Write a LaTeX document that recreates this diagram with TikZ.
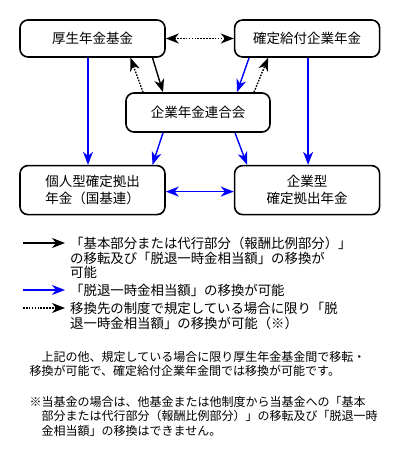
\documentclass[tikz,border=0pt]{standalone}
\usepackage{fontspec}
\setmainfont{Noto Sans CJK JP}
\usetikzlibrary{arrows.meta, positioning}
\definecolor{moveblue}{HTML}{0000FF}

\begin{document}
\begin{tikzpicture}[x=1pt, y=-1pt,
  plan/.style={rectangle, draw=black, line width=1.6pt, rounded corners=8pt, minimum width=145pt, minimum height=37pt, align=center, inner sep=2pt, font=\fontsize{13.5}{17}\selectfont},
  note/.style={anchor=north west, inner sep=0pt, align=left, font=\fontsize{13.4}{14.5}\selectfont},
  para/.style={anchor=north west, inner sep=0pt, align=left, font=\fontsize{12}{14.5}\selectfont},
  arrow/.style={-{Stealth[length=13pt, width=10pt, inset=4pt]}, line width=1.4pt},
  both/.style={{Stealth[length=13pt, width=10pt, inset=4pt]}-{Stealth[length=13pt, width=10pt, inset=4pt]}, line width=1.4pt},
  dots/.style={dash pattern=on 1.6pt off 1.3pt}
]
  \useasboundingbox (0,0) rectangle (401,455);

  % Boxes
  \node[plan] (kosei) at (92.5,38.5) {厚生年金基金};
  \node[plan, right=68pt of kosei] (kakutei) {確定給付企業年金};
  \node[plan, minimum width=144pt, minimum height=39pt] (rengo) at (198,112.5) {企業年金連合会};
  \node[plan, minimum height=49pt, below=107pt of kosei.south, anchor=north] (kojin) {個人型確定拠出\\年金（国基連）};
  \node[plan, minimum height=49pt, below=107pt of kakutei.south, anchor=north] (kigyo) {企業型\\確定拠出年金};

  % Arrows
  \draw[both, dots] (kosei.east) -- (kakutei.west);
  \draw[arrow] ([xshift=60pt]kosei.south) -- ([xshift=-35pt]rengo.north);
  \draw[arrow, dots] ([xshift=-55pt]rengo.north) -- ([xshift=38pt]kosei.south);
  \draw[arrow, moveblue] ([xshift=-58pt]kakutei.south) -- ([xshift=39pt]rengo.north);
  \draw[arrow, dots] ([xshift=56pt]rengo.north) -- ([xshift=-39pt]kakutei.south);
  \draw[arrow, moveblue] ([xshift=-4.5pt]kosei.south) -- ([xshift=-4.5pt]kojin.north);
  \draw[arrow, moveblue] ([xshift=1pt]kakutei.south) -- ([xshift=1pt]kigyo.north);
  \draw[arrow, moveblue] ([xshift=-35pt]rengo.south) -- ([xshift=60pt]kojin.north);
  \draw[arrow, moveblue] ([xshift=37pt]rengo.south) -- ([xshift=-60pt]kigyo.north);
  \draw[both, moveblue] ([yshift=-1.5pt]kojin.east) -- ([yshift=-1.5pt]kigyo.west);

  % Legend
  \coordinate (k1) at (23,243);  \coordinate (k2) at (65,243);
  \coordinate (b1) at (23,290);  \coordinate (b2) at (65,290);
  \coordinate (d1) at (23,308);  \coordinate (d2) at (65,308);
  \draw[arrow] (k1) -- (k2);
  \draw[arrow, moveblue] (b1) -- (b2);
  \draw[arrow, dots] (d1) -- (d2);
  \node[note] (blackNote) at (70,237) {「基本部分または代行部分（報酬比例部分）」\\の移転及び「脱退一時金相当額」の移換が\\可能};
  \node[note] (blueNote) at (70,284) {「脱退一時金相当額」の移換が可能};
  \node[note] (dotNote) at (70,302) {移換先の制度で規定している場合に限り「脱\\退一時金相当額」の移換が可能（※）};

  % Remarks
  \node[para] (others) at (29.5,351) {\hspace*{1em}上記の他、規定している場合に限り厚生年金基金間で移転・\\移換が可能で、確定給付企業年金間では移換が可能です。};
  \node[para] (caution) at (29.5,396) {※当基金の場合は、他基金または他制度から当基金への「基本\\\hspace*{1em}部分または代行部分（報酬比例部分）」の移転及び「脱退一時\\\hspace*{1em}金相当額」の移換はできません。};
\end{tikzpicture}
\end{document}
